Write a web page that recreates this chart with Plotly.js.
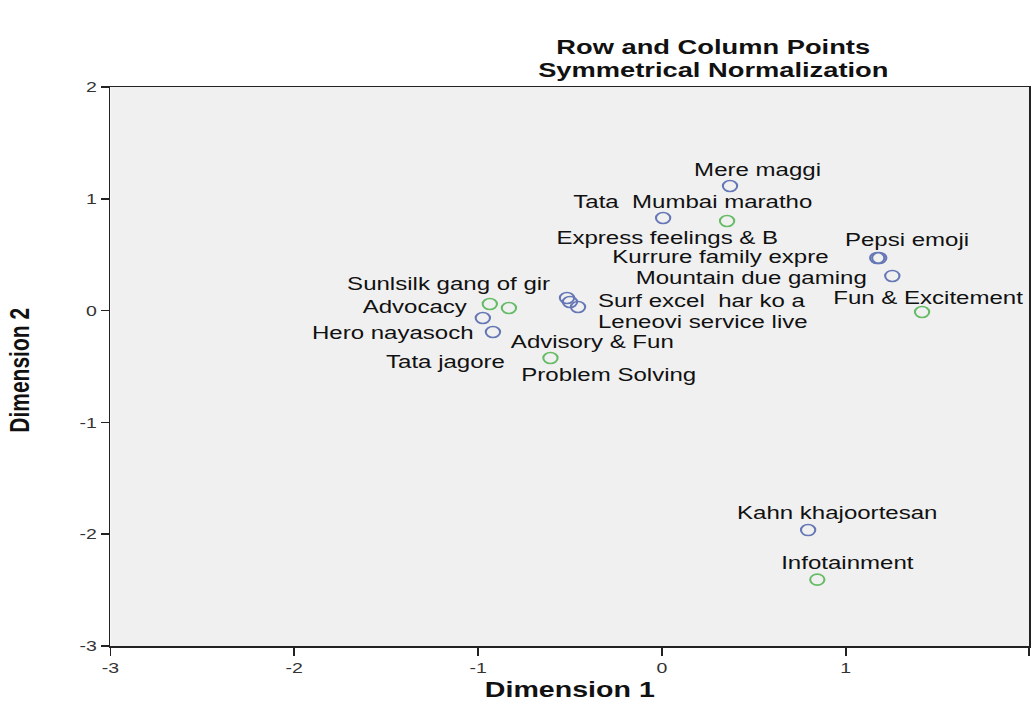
<!DOCTYPE html>
<html>
<head>
<meta charset="utf-8">
<script src="https://cdn.plot.ly/plotly-3.0.1.min.js"></script>
<style>
html,body{margin:0;padding:0;background:#fff;overflow:hidden;}
#wrap{width:1032px;height:713px;overflow:hidden;}
#chart{width:794px;height:713px;transform:scaleX(1.29975);transform-origin:0 0;}
</style>
</head>
<body>
<div id="wrap"><div id="chart"></div></div>
<script>
// Row points (brands)
const rowLabels = ["Mere maggi","Tata  Mumbai maratho","Kurrure family expre","Pepsi emoji","Mountain due gaming","Sunlsilk gang of gir","Surf excel  har ko a","Leneovi service live","Hero nayasoch","Tata jagore","Kahn khajoortesan"];
const rowDim1 = [0.371, 0.007, 1.172, 1.183, 1.254, -0.516, -0.500, -0.456, -0.919, -0.974, 0.796];
const rowDim2 = [1.114, 0.828, 0.470, 0.470, 0.310, 0.113, 0.077, 0.032, -0.191, -0.066, -1.963];

// Column points (categories)
const colLabels = ["Express feelings & B","Fun & Excitement","Advocacy","Advisory & Fun","Problem Solving","Infotainment"];
const colDim1 = [0.355, 1.416, -0.936, -0.832, -0.606, 0.846];
const colDim2 = [0.801, -0.013, 0.059, 0.023, -0.424, -2.406];

const axisTicks = [-3, -2, -1, 0, 1, 2];

// label displacement from its point (screen pixels: right, down)
const rowLabelShift = [[28,-17],[29,-17],[-156,-2],[28,-19],[-141,2],[-119,-14],[132,-1],[124,14],[-100,1],[-37,44],[29,-18]];
const colLabelShift = [[-60,16],[6,-15],[-75,2],[83,33],[58,16],[30,-17]];

const SX = 1032 / 794;   // horizontal stretch applied to the whole figure
const FONT = "Liberation Sans, Arial, sans-serif";

const traces = [
  {x: rowDim1, y: rowDim2, type: 'scatter', mode: 'markers', name: 'Row',
   marker: {symbol: 'circle-open', size: 11, color: '#6677b5', line: {width: 1.6, color: '#6677b5'}},
   hoverinfo: 'text', text: rowLabels},
  {x: colDim1, y: colDim2, type: 'scatter', mode: 'markers', name: 'Column',
   marker: {symbol: 'circle-open', size: 11, color: '#66bb66', line: {width: 1.6, color: '#66bb66'}},
   hoverinfo: 'text', text: colLabels}
];

const annotations = [];
function addLabels(labels, xs, ys, shifts) {
  labels.forEach((t, i) => {
    annotations.push({x: xs[i], y: ys[i], xref: 'x', yref: 'y', text: t, showarrow: false,
      xanchor: 'center', yanchor: 'middle', xshift: shifts[i][0] / SX, yshift: -shifts[i][1],
      borderpad: 0, font: {family: FONT, size: 18.5, color: '#111'}});
  });
}
addLabels(rowLabels, rowDim1, rowDim2, rowLabelShift);
addLabels(colLabels, colDim1, colDim2, colLabelShift);

annotations.push({xref: 'paper', yref: 'paper', x: 0.656, y: 1.0716, xanchor: 'center', yanchor: 'middle',
  text: '<b>Row and Column Points</b>', showarrow: false, font: {family: FONT, size: 21, color: '#111'}});
annotations.push({xref: 'paper', yref: 'paper', x: 0.656, y: 1.031, xanchor: 'center', yanchor: 'middle',
  text: '<b>Symmetrical Normalization</b>', showarrow: false, font: {family: FONT, size: 21, color: '#111'}});
annotations.push({xref: 'paper', yref: 'paper', x: 0.5, y: -0.0787, xanchor: 'center', yanchor: 'middle',
  text: '<b>Dimension 1</b>', showarrow: false, font: {family: FONT, size: 22, color: '#111'}});
annotations.push({xref: 'paper', yref: 'paper', x: -0.0991, y: 0.494, xanchor: 'center', yanchor: 'middle',
  text: '<b>Dimension 2</b>', textangle: -90, showarrow: false,
  font: {family: FONT, size: 21, color: '#111'}});

const axisCommon = {
  showgrid: false, zeroline: false, showline: true, mirror: true, linecolor: '#222', linewidth: 1.5,
  ticks: 'outside', ticklen: 8, tickcolor: '#222', tickwidth: 1.5,
  tickfont: {family: FONT, size: 15, color: '#333'}, tickvals: axisTicks, ticktext: axisTicks.map(String)
};

const layout = {
  width: 794, height: 713,
  margin: {l: 85.4, r: 2.3, t: 87, b: 67},
  paper_bgcolor: '#ffffff', plot_bgcolor: '#f0f0f0',
  showlegend: false,
  xaxis: Object.assign({}, axisCommon, {range: [-3, 2]}),
  yaxis: Object.assign({}, axisCommon, {range: [-3, 2], ticklen: 6}),
  annotations: annotations
};

Plotly.newPlot('chart', traces, layout, {displayModeBar: false, staticPlot: true});
</script>
</body>
</html>
